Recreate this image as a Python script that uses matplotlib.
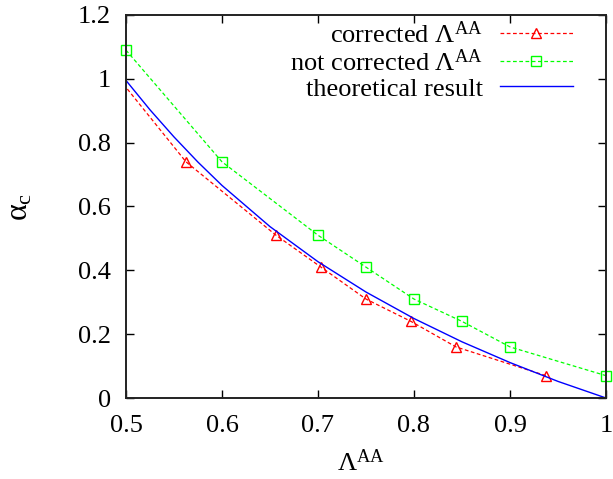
import matplotlib
matplotlib.use("Agg")
import matplotlib.pyplot as plt

plt.rcParams['font.family'] = ['Liberation Serif', 'DejaVu Serif']
plt.rcParams['mathtext.fontset'] = 'custom'
plt.rcParams['mathtext.rm'] = 'Liberation Serif'
plt.rcParams['mathtext.it'] = 'Liberation Serif'
plt.rcParams['mathtext.bf'] = 'Liberation Serif:bold'

# corrected Lambda^AA (first point lies left of the visible range)
corr_x = [0.46875, 0.5625, 0.65625, 0.703125, 0.75, 0.796875, 0.84375, 0.9375]
corr_y = [1.09, 0.74, 0.51, 0.41, 0.31, 0.24, 0.16, 0.07]

# not corrected Lambda^AA
nc_x = [0.5, 0.6, 0.7, 0.75, 0.8, 0.85, 0.9, 1.0]
nc_y = [1.09, 0.74, 0.51, 0.41, 0.31, 0.24, 0.16, 0.07]

# theoretical result
th_x = [0.5, 0.525, 0.55, 0.575, 0.6, 0.65, 0.7, 0.75, 0.8, 0.85, 0.9, 0.95, 1.0]
th_y = [0.995, 0.903, 0.818, 0.739, 0.666, 0.537, 0.427, 0.332, 0.249, 0.176, 0.111, 0.052, 0.0]

xticks = [0.5, 0.6, 0.7, 0.8, 0.9, 1.0]
xticklabels = ['0.5', '0.6', '0.7', '0.8', '0.9', '1']
yticks = [0, 0.2, 0.4, 0.6, 0.8, 1.0, 1.2]
yticklabels = ['0', '0.2', '0.4', '0.6', '0.8', '1', '1.2']

fig = plt.figure(figsize=(6.13, 4.79), dpi=100)
ax = fig.add_axes([0.2055, 0.1691, 0.7831, 0.7996])

ax.plot(corr_x, corr_y, color='#ff0000', ls=(0, (3, 2)), lw=0.9,
        marker='^', ms=7.5, mfc='none', mec='#ff0000', mew=1.0,
        label=r'corrected $\Lambda^{\mathrm{AA}}$')
ax.plot(nc_x, nc_y, color='#00ff00', ls=(0, (3, 2)), lw=0.9,
        marker='s', ms=7.5, mfc='none', mec='#00ff00', mew=1.0,
        label=r'not corrected $\Lambda^{\mathrm{AA}}$', clip_on=False)
ax.plot(th_x, th_y, color='#0000ff', lw=1.0, label='theoretical result')

ax.set_xlim(0.5, 1.0)
ax.set_ylim(0, 1.2)
ax.set_xticks(xticks)
ax.set_xticklabels(xticklabels)
ax.set_yticks(yticks)
ax.set_yticklabels(yticklabels)
ax.tick_params(direction='in', top=True, right=True, length=6, width=1.0,
               labelsize=19)
ax.tick_params(axis='y', pad=11)
ax.tick_params(axis='x', pad=12)
for s in ax.spines.values():
    s.set_linewidth(1.4)
    s.set_color('#222222')

ax.set_xlabel(r'$\Lambda^{\mathrm{AA}}$', fontsize=19)
ax.xaxis.set_label_coords(0.49, -0.135)
ax.set_ylabel(r'$\alpha_{\mathrm{c}}$', fontsize=23)
ax.yaxis.set_label_coords(-0.19, 0.5)

leg = ax.legend(loc='upper right', frameon=False, markerfirst=False,
                fontsize=19, handlelength=2.77, handletextpad=0.65,
                labelspacing=0.06, borderaxespad=0.0, borderpad=0.0,
                bbox_to_anchor=((573 - 126) / 480, (398 - 21) / 383))

fig.savefig('out.png', dpi=100)
